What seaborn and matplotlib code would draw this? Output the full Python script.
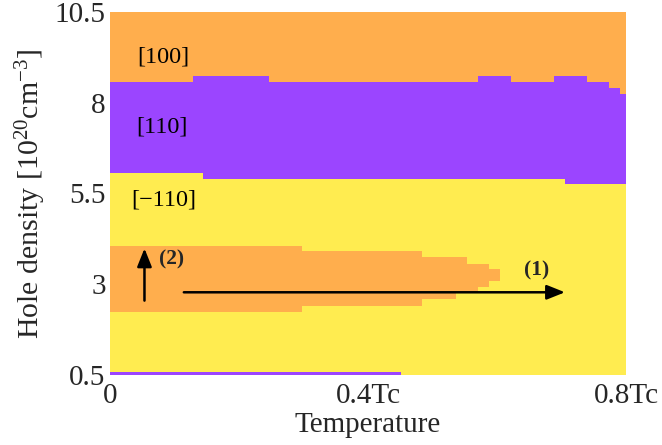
import numpy as np
import matplotlib
matplotlib.use("Agg")
import matplotlib.pyplot as plt
import seaborn as sns

# Phase boundaries
# temperature in units of Tc, hole density in 1e20 cm^-3, step-wise (each level holds until the next edge)
upper_temp = [0, 0.1285, 0.246, 0.570, 0.621, 0.689, 0.740, 0.773, 0.790, 0.8]
upper_dens = [8.58, 8.75, 8.58, 8.75, 8.58, 8.75, 8.58, 8.42, 8.24]

lower_temp = [0, 0.145, 0.706, 0.8]
lower_dens = [6.07, 5.90, 5.75]

island_top_temp = [0, 0.298, 0.4845, 0.553, 0.587, 0.605]
island_top_dens = [4.06, 3.91, 3.74, 3.56, 3.40]
island_bot_temp = [0, 0.298, 0.4845, 0.536, 0.570, 0.587, 0.605]
island_bot_dens = [2.23, 2.39, 2.58, 2.74, 2.91, 3.08]

strip_temp = [0, 0.452]
strip_dens = [0.5, 0.565]

phase_names = ["[100]", "[110]", "[\u2212110]"]
phase_label_temp = [0.083, 0.08, 0.083]
phase_label_dens = [9.27, 7.34, 5.32]

# paths: (1) heating at fixed density, (2) increasing density
path1_tail, path1_tip = (0.1146, 2.77), (0.7054, 2.77)
path2_tail, path2_tip = (0.0536, 2.54), (0.0536, 3.98)
path_names = ["(1)", "(2)"]
path_label_pos = [(0.662, 3.385), (0.095, 3.68)]

x_ticks = [0, 0.4, 0.8]
x_ticklabels = ["0", "0.4Tc", "0.8Tc"]
y_ticks = [0.5, 3, 5.5, 8, 10.5]
y_ticklabels = ["0.5", "3", "5.5", "8", "10.5"]

ORANGE = "#FFAE4D"
PURPLE = "#9B45FF"
YELLOW = "#FFEC50"

sns.set_theme(style="white")
plt.rcParams["font.family"] = ["Liberation Serif", "DejaVu Serif"]
plt.rcParams["mathtext.fontset"] = "custom"
plt.rcParams["mathtext.rm"] = "Liberation Serif"
plt.rcParams["mathtext.it"] = "Liberation Serif:italic"


def steps(edges, levels, grid):
    idx = np.searchsorted(edges, grid, side="right") - 1
    idx = np.clip(idx, 0, len(levels) - 1)
    return np.asarray(levels)[idx]


fig = plt.figure(figsize=(6.62, 4.45), dpi=100)
ax = fig.add_axes([0.166, 0.1584, 0.7796, 0.814])
ax.set_facecolor(YELLOW)

# [110] band between the lower and upper boundary
g = np.union1d(lower_temp, upper_temp)
ax.fill_between(g, steps(lower_temp, lower_dens, g), steps(upper_temp, upper_dens, g),
                step="post", color=PURPLE, lw=0)
# [100] above the upper boundary
g = np.array(upper_temp)
ax.fill_between(g, steps(upper_temp, upper_dens, g), 10.5, step="post", color=ORANGE, lw=0)
# [100] island inside the [-110] phase
g = np.union1d(island_top_temp, island_bot_temp)
ax.fill_between(g, steps(island_bot_temp, island_bot_dens, g), steps(island_top_temp, island_top_dens, g),
                step="post", color=ORANGE, lw=0)
# thin [110] strip at the lowest density
ax.fill_between(strip_temp, strip_dens[0], strip_dens[1], color=PURPLE, lw=0)

for name, t, d in zip(phase_names, phase_label_temp, phase_label_dens):
    ax.text(t, d, name, ha="center", va="center", fontsize=17.5, color="black")

arrow = dict(arrowstyle="-|>,head_length=0.5,head_width=0.2", color="black", lw=1.8,
             mutation_scale=22, shrinkA=0, shrinkB=0)
ax.annotate("", xy=path1_tip, xytext=path1_tail, arrowprops=arrow)
ax.annotate("", xy=path2_tip, xytext=path2_tail, arrowprops=arrow)
for name, (t, d) in zip(path_names, path_label_pos):
    ax.text(t, d, name, ha="center", va="center", fontsize=15.5, fontweight="bold")

ax.set_xlim(0, 0.8)
ax.set_ylim(0.5, 10.5)
ax.set_xticks(x_ticks)
ax.set_xticklabels(x_ticklabels)
ax.set_yticks(y_ticks)
ax.set_yticklabels(y_ticklabels)
ax.tick_params(axis="both", length=0, labelsize=21)
ax.tick_params(axis="x", pad=6)
ax.tick_params(axis="y", pad=3)
ax.set_xlabel("Temperature", fontsize=21, labelpad=2)
ax.set_ylabel("Hole density [10$^{20}$cm$^{-3}$]", fontsize=21.5, labelpad=5)
sns.despine(ax=ax, left=True, bottom=True)

fig.savefig("out.png", dpi=100)
